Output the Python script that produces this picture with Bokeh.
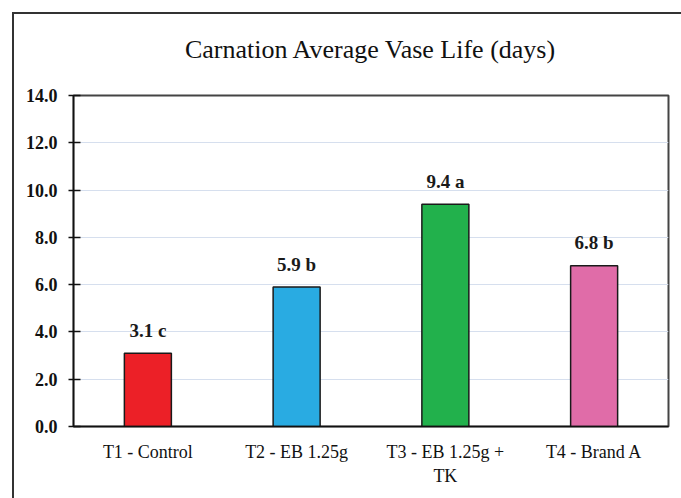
from bokeh.plotting import figure
from bokeh.models import ColumnDataSource, FactorRange, Range1d, FixedTicker, NumeralTickFormatter, Title
from bokeh.core.properties import value
from bokeh.embed import file_html
from bokeh.resources import INLINE

categories = ["T1 - Control", "T2 - EB 1.25g", "T3 - EB 1.25g +\nTK", "T4 - Brand A"]
vase_life = [3.1, 5.9, 9.4, 6.8]
letters = ["c", "b", "a", "b"]
colors = ["#EC2027", "#29ABE2", "#22B14C", "#E06CA8"]
y_ticks = [0, 2, 4, 6, 8, 10, 12, 14]

labels = [f"{v:.1f} {l}" for v, l in zip(vase_life, letters)]
src = ColumnDataSource(dict(cat=categories, val=vase_life, color=colors, label=labels))

FONT = "Liberation Serif"

p = figure(width=681, height=498, title=None,
           x_range=FactorRange(factors=categories), y_range=Range1d(0, 14),
           output_backend="svg", toolbar_location=None,
           min_border_left=73, min_border_right=13, min_border_top=95, min_border_bottom=72)

# outer chart-area border (left and top edges visible), drawn behind a transparent canvas border
p.border_fill_alpha = 0
p.background_fill_color = "#ffffff"
p.styles = {"box-shadow": "inset 12px 12px 0px 0px #ffffff, inset 14px 14px 0px 0px #333333"}

p.vbar(x="cat", top="val", width=0.316, fill_color="color", line_color="#1a1a1a",
       line_width=1.5, source=src)
p.text(x="cat", y="val", text="label", text_align="center", text_baseline="alphabetic",
       y_offset=-23, text_font=value(FONT), text_font_size="19px", text_font_style="bold",
       text_color="#1a1a1a", source=src)

spacer = Title(text=" ", text_font_size="12px", standoff=0)
main_title = Title(text="Carnation Average Vase Life (days)", align="center",
                   text_font=FONT, text_font_size="26px", text_font_style="normal",
                   text_color="#111111", standoff=32)
p.add_layout(spacer, "above")
p.add_layout(main_title, "above")

p.yaxis.ticker = FixedTicker(ticks=y_ticks)
p.yaxis.formatter = NumeralTickFormatter(format="0.0")
p.yaxis.major_label_text_font = FONT
p.yaxis.major_label_text_font_size = "18px"
p.yaxis.major_label_text_font_style = "bold"
p.yaxis.major_label_text_color = "#111111"
p.yaxis.major_tick_out = 5
p.yaxis.major_tick_in = 7
p.yaxis.minor_tick_line_color = None
p.yaxis.major_label_standoff = 11

p.xaxis.major_tick_in = 0
p.xaxis.major_tick_out = 0
p.xaxis.major_label_text_font = FONT
p.xaxis.major_label_text_font_size = "18px"
p.xaxis.major_label_text_color = "#111111"
p.xaxis.major_label_standoff = 15

for ax in (p.xaxis, p.yaxis):
    ax.axis_line_color = "#111111"
    ax.axis_line_width = 1.5
    ax.major_tick_line_color = "#111111"
    ax.major_tick_line_width = 1.5

p.xgrid.grid_line_color = None
p.ygrid.grid_line_color = "#D6DFEE"
p.ygrid.grid_line_width = 1

p.outline_line_color = "#444444"
p.outline_line_width = 2

open("out.html", "w").write(file_html(p, INLINE))
